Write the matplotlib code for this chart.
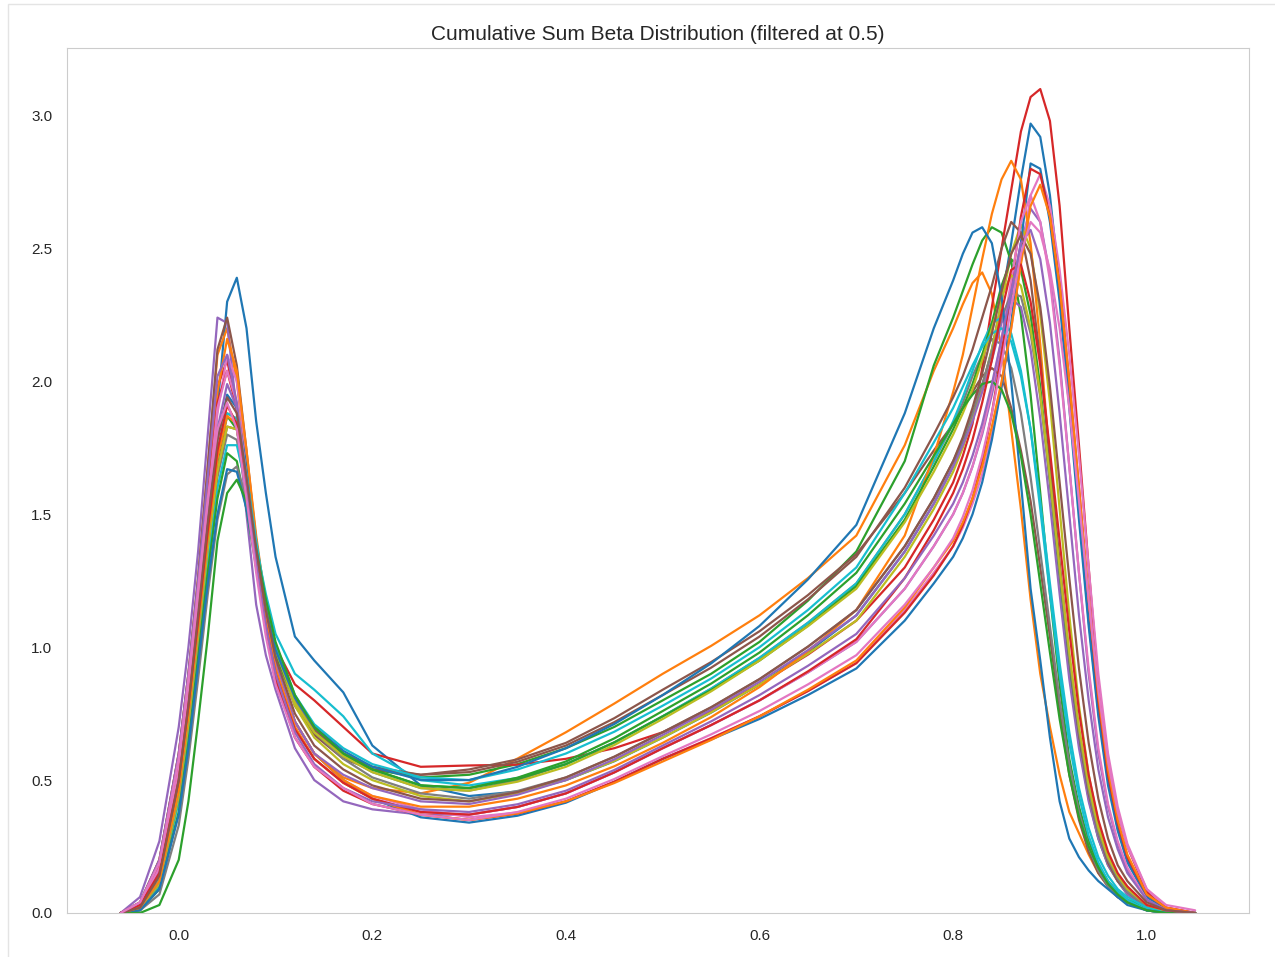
import matplotlib
matplotlib.use("Agg")
import matplotlib.pyplot as plt
import seaborn as sns
from matplotlib.patches import Rectangle

# common evaluation grid of the density curves
x_grid = [-0.06, -0.04, -0.02, 0.00, 0.01, 0.02, 0.03, 0.04, 0.05, 0.06, 0.07, 0.08,
          0.09, 0.10, 0.12, 0.14, 0.17, 0.20, 0.25, 0.30, 0.35, 0.40, 0.45, 0.50,
          0.55, 0.60, 0.65, 0.70,
          0.75, 0.78, 0.80, 0.81, 0.82, 0.83, 0.84, 0.85, 0.86, 0.87, 0.88, 0.89,
          0.90, 0.91, 0.92, 0.93, 0.94, 0.95, 0.96, 0.97, 0.98, 1.00, 1.02, 1.05]

# density values, one list per run (plotted in this order)
run_00 = [0.0, 0.02, 0.12, 0.45, 0.72, 1.05, 1.45, 1.9, 2.3, 2.39, 2.2, 1.85, 1.58, 1.34, 1.04, 0.95, 0.83, 0.63, 0.48, 0.44,
          0.457, 0.5, 0.571, 0.66, 0.754, 0.86, 0.982, 1.12,
          1.36, 1.54, 1.68, 1.77, 1.87, 1.98, 2.12, 2.3, 2.52, 2.76, 2.97, 2.92, 2.7, 2.36, 1.95, 1.52, 1.1, 0.76, 0.5, 0.32, 0.2, 0.06, 0.015, 0.0]
run_01 = [0.0, 0.04, 0.2, 0.6, 0.9, 1.26, 1.68, 2.1, 2.2, 2.0, 1.68, 1.34, 1.1, 0.93, 0.72, 0.6, 0.51, 0.47, 0.45, 0.49,
          0.581, 0.68, 0.788, 0.9, 1.005, 1.12, 1.26, 1.42,
          1.76, 2.04, 2.2, 2.29, 2.37, 2.41, 2.33, 2.12, 1.82, 1.52, 1.18, 0.9, 0.7, 0.52, 0.38, 0.3, 0.22, 0.15, 0.1, 0.06, 0.04, 0.01, 0.0, 0.0]
run_02 = [0.0, 0.02, 0.12, 0.46, 0.74, 1.07, 1.4, 1.7, 1.87, 1.82, 1.6, 1.35, 1.14, 0.98, 0.79, 0.68, 0.59, 0.54, 0.51, 0.52,
          0.56, 0.62, 0.70, 0.8, 0.90, 1.02, 1.175, 1.36,
          1.7, 2.06, 2.24, 2.34, 2.44, 2.53, 2.58, 2.56, 2.45, 2.25, 1.95, 1.58, 1.2, 0.86, 0.58, 0.4, 0.27, 0.18, 0.12, 0.08, 0.05, 0.02, 0.0, 0.0]
run_03 = [0.0, 0.03, 0.18, 0.56, 0.86, 1.2, 1.58, 1.98, 2.08, 1.9, 1.62, 1.34, 1.14, 1.0, 0.86, 0.8, 0.7, 0.6, 0.55, 0.555,
          0.558, 0.58, 0.62, 0.68, 0.761, 0.86, 0.972, 1.1,
          1.3, 1.48, 1.62, 1.72, 1.84, 2.05, 2.28, 2.5, 2.72, 2.94, 3.07, 3.1, 2.98, 2.66, 2.2, 1.76, 1.3, 0.86, 0.58, 0.38, 0.25, 0.08, 0.02, 0.0]
run_04 = [0.0, 0.06, 0.27, 0.7, 1.0, 1.36, 1.8, 2.24, 2.22, 1.88, 1.5, 1.16, 0.97, 0.84, 0.62, 0.5, 0.42, 0.39, 0.37, 0.37,
          0.399, 0.45, 0.529, 0.62, 0.707, 0.8, 0.905, 1.02,
          1.22, 1.38, 1.5, 1.58, 1.68, 1.8, 1.95, 2.12, 2.32, 2.52, 2.65, 2.6, 2.4, 2.08, 1.68, 1.28, 0.9, 0.6, 0.4, 0.26, 0.16, 0.05, 0.01, 0.0]
run_05 = [0.0, 0.04, 0.2, 0.6, 0.9, 1.26, 1.68, 2.12, 2.24, 2.06, 1.74, 1.4, 1.15, 0.98, 0.78, 0.67, 0.58, 0.54, 0.52, 0.54,
          0.578, 0.64, 0.733, 0.84, 0.944, 1.06, 1.196, 1.35,
          1.58, 1.74, 1.84, 1.9, 1.96, 2.02, 2.05, 2.02, 1.9, 1.74, 1.55, 1.3, 1.04, 0.76, 0.52, 0.35, 0.23, 0.15, 0.1, 0.06, 0.04, 0.01, 0.0, 0.0]
run_06 = [0.0, 0.03, 0.16, 0.52, 0.82, 1.16, 1.52, 1.88, 2.1, 2.0, 1.72, 1.4, 1.14, 0.95, 0.72, 0.6, 0.5, 0.44, 0.39, 0.36,
          0.378, 0.42, 0.494, 0.58, 0.658, 0.74, 0.835, 0.94,
          1.14, 1.28, 1.38, 1.45, 1.54, 1.65, 1.8, 1.98, 2.2, 2.45, 2.7, 2.78, 2.66, 2.42, 2.1, 1.72, 1.3, 0.9, 0.6, 0.4, 0.26, 0.09, 0.02, 0.0]
run_07 = [0.0, 0.02, 0.11, 0.44, 0.72, 1.04, 1.36, 1.64, 1.8, 1.78, 1.58, 1.34, 1.14, 0.98, 0.8, 0.69, 0.59, 0.53, 0.47, 0.46,
          0.50, 0.56, 0.642, 0.74, 0.844, 0.96, 1.092, 1.24,
          1.5, 1.7, 1.84, 1.92, 2.02, 2.1, 2.16, 2.14, 2.05, 1.88, 1.64, 1.36, 1.08, 0.8, 0.56, 0.38, 0.25, 0.16, 0.1, 0.06, 0.04, 0.01, 0.0, 0.0]
run_08 = [0.0, 0.02, 0.12, 0.46, 0.74, 1.08, 1.42, 1.72, 1.88, 1.86, 1.65, 1.38, 1.16, 0.98, 0.78, 0.66, 0.56, 0.5, 0.44, 0.42,
          0.45, 0.5, 0.572, 0.66, 0.755, 0.86, 0.975, 1.1,
          1.34, 1.52, 1.66, 1.75, 1.86, 1.98, 2.12, 2.3, 2.48, 2.59, 2.5, 2.25, 1.92, 1.52, 1.12, 0.78, 0.52, 0.34, 0.22, 0.14, 0.09, 0.03, 0.01, 0.0]
run_09 = [0.0, 0.02, 0.1, 0.42, 0.68, 1.0, 1.32, 1.6, 1.76, 1.76, 1.6, 1.38, 1.2, 1.05, 0.9, 0.84, 0.74, 0.6, 0.5, 0.48,
          0.508, 0.56, 0.641, 0.74, 0.844, 0.96, 1.092, 1.24,
          1.5, 1.7, 1.85, 1.94, 2.04, 2.14, 2.22, 2.24, 2.18, 2.04, 1.82, 1.52, 1.2, 0.9, 0.64, 0.44, 0.29, 0.19, 0.12, 0.08, 0.05, 0.01, 0.0, 0.0]
run_10 = [0.0, 0.02, 0.14, 0.5, 0.8, 1.14, 1.48, 1.78, 1.95, 1.9, 1.68, 1.4, 1.15, 0.95, 0.72, 0.6, 0.5, 0.43, 0.36, 0.34,
          0.366, 0.415, 0.493, 0.58, 0.653, 0.73, 0.82, 0.92,
          1.1, 1.24, 1.34, 1.41, 1.5, 1.62, 1.78, 1.98, 2.22, 2.52, 2.82, 2.8, 2.6, 2.3, 1.9, 1.48, 1.08, 0.74, 0.48, 0.31, 0.19, 0.06, 0.01, 0.0]
run_11 = [0.0, 0.03, 0.17, 0.54, 0.84, 1.2, 1.58, 1.96, 2.16, 2.04, 1.74, 1.42, 1.16, 0.96, 0.72, 0.6, 0.5, 0.44, 0.4, 0.4,
          0.43, 0.48, 0.552, 0.64, 0.737, 0.85, 0.985, 1.14,
          1.42, 1.72, 1.96, 2.1, 2.28, 2.46, 2.63, 2.76, 2.83, 2.76, 2.52, 2.14, 1.7, 1.28, 0.92, 0.64, 0.44, 0.3, 0.2, 0.13, 0.08, 0.02, 0.0, 0.0]
run_12 = [0.0, 0.01, 0.09, 0.38, 0.64, 0.96, 1.28, 1.56, 1.73, 1.7, 1.52, 1.3, 1.12, 0.97, 0.8, 0.69, 0.6, 0.54, 0.48, 0.47,
          0.504, 0.56, 0.642, 0.74, 0.839, 0.95, 1.081, 1.23,
          1.48, 1.68, 1.82, 1.9, 1.99, 2.1, 2.22, 2.36, 2.46, 2.42, 2.25, 1.98, 1.62, 1.26, 0.92, 0.64, 0.43, 0.28, 0.18, 0.12, 0.07, 0.02, 0.0, 0.0]
run_13 = [0.0, 0.03, 0.18, 0.56, 0.86, 1.2, 1.56, 1.92, 2.04, 1.9, 1.6, 1.3, 1.06, 0.88, 0.66, 0.55, 0.46, 0.41, 0.37, 0.35,
          0.374, 0.42, 0.494, 0.58, 0.657, 0.74, 0.835, 0.94,
          1.13, 1.27, 1.38, 1.46, 1.56, 1.7, 1.88, 2.1, 2.36, 2.62, 2.8, 2.78, 2.62, 2.36, 2.0, 1.6, 1.18, 0.8, 0.52, 0.34, 0.21, 0.07, 0.02, 0.0]
run_14 = [0.0, 0.03, 0.16, 0.52, 0.8, 1.14, 1.5, 1.82, 1.99, 1.9, 1.64, 1.36, 1.12, 0.94, 0.72, 0.6, 0.52, 0.47, 0.42, 0.41,
          0.445, 0.5, 0.578, 0.67, 0.765, 0.87, 0.989, 1.12,
          1.36, 1.54, 1.68, 1.76, 1.85, 1.96, 2.08, 2.22, 2.31, 2.28, 2.12, 1.86, 1.54, 1.2, 0.88, 0.62, 0.42, 0.28, 0.18, 0.12, 0.07, 0.02, 0.0, 0.0]
run_15 = [0.0, 0.02, 0.11, 0.44, 0.72, 1.04, 1.38, 1.66, 1.83, 1.82, 1.62, 1.38, 1.17, 1.0, 0.8, 0.69, 0.6, 0.55, 0.52, 0.53,
          0.569, 0.63, 0.718, 0.82, 0.923, 1.04, 1.18, 1.34,
          1.6, 1.8, 1.94, 2.02, 2.12, 2.24, 2.36, 2.5, 2.6, 2.56, 2.38, 2.08, 1.7, 1.32, 0.96, 0.67, 0.45, 0.3, 0.19, 0.12, 0.08, 0.02, 0.0, 0.0]
run_16 = [0.0, 0.03, 0.17, 0.54, 0.84, 1.18, 1.54, 1.9, 2.04, 1.92, 1.64, 1.35, 1.1, 0.92, 0.7, 0.58, 0.49, 0.43, 0.38, 0.37,
          0.399, 0.45, 0.529, 0.62, 0.707, 0.8, 0.905, 1.02,
          1.22, 1.38, 1.5, 1.58, 1.68, 1.81, 1.97, 2.16, 2.38, 2.6, 2.7, 2.6, 2.38, 2.06, 1.68, 1.28, 0.92, 0.62, 0.41, 0.27, 0.17, 0.05, 0.01, 0.0]
run_17 = [0.0, 0.01, 0.07, 0.33, 0.58, 0.88, 1.2, 1.48, 1.65, 1.68, 1.55, 1.34, 1.15, 0.99, 0.8, 0.68, 0.58, 0.51, 0.45, 0.43,
          0.459, 0.51, 0.588, 0.68, 0.774, 0.88, 1.002, 1.14,
          1.38, 1.56, 1.7, 1.78, 1.88, 1.99, 2.11, 2.24, 2.33, 2.32, 2.18, 1.94, 1.62, 1.28, 0.96, 0.68, 0.46, 0.3, 0.2, 0.13, 0.08, 0.02, 0.0, 0.0]
run_18 = [0.0, 0.02, 0.11, 0.44, 0.71, 1.04, 1.37, 1.66, 1.83, 1.82, 1.62, 1.37, 1.16, 0.99, 0.79, 0.68, 0.59, 0.53, 0.47, 0.46,
          0.494, 0.55, 0.632, 0.73, 0.834, 0.95, 1.079, 1.22,
          1.47, 1.66, 1.8, 1.88, 1.97, 2.08, 2.2, 2.32, 2.4, 2.36, 2.2, 1.95, 1.64, 1.3, 0.98, 0.7, 0.48, 0.32, 0.21, 0.14, 0.09, 0.03, 0.0, 0.0]
run_19 = [0.0, 0.02, 0.12, 0.46, 0.74, 1.07, 1.41, 1.72, 1.88, 1.86, 1.65, 1.4, 1.18, 1.01, 0.82, 0.71, 0.62, 0.56, 0.51, 0.5,
          0.54, 0.6, 0.682, 0.78, 0.882, 1.0, 1.14, 1.3,
          1.58, 1.77, 1.9, 1.98, 2.06, 2.13, 2.18, 2.2, 2.15, 2.02, 1.82, 1.55, 1.24, 0.94, 0.68, 0.47, 0.32, 0.21, 0.14, 0.09, 0.06, 0.02, 0.0, 0.0]
run_20 = [0.0, 0.01, 0.09, 0.37, 0.62, 0.93, 1.24, 1.5, 1.67, 1.66, 1.52, 1.32, 1.14, 0.99, 0.81, 0.7, 0.61, 0.55, 0.5, 0.5,
          0.55, 0.62, 0.711, 0.82, 0.939, 1.08, 1.255, 1.46,
          1.88, 2.2, 2.38, 2.48, 2.56, 2.58, 2.52, 2.32, 2.0, 1.62, 1.22, 0.95, 0.66, 0.42, 0.28, 0.21, 0.16, 0.12, 0.09, 0.06, 0.03, 0.01, 0.0, 0.0]
run_21 = [0.0, 0.02, 0.12, 0.46, 0.74, 1.07, 1.41, 1.71, 1.87, 1.84, 1.62, 1.34, 1.1, 0.92, 0.7, 0.58, 0.49, 0.43, 0.37, 0.35,
          0.375, 0.42, 0.489, 0.57, 0.651, 0.74, 0.84, 0.95,
          1.15, 1.3, 1.4, 1.47, 1.56, 1.68, 1.83, 2.0, 2.2, 2.44, 2.66, 2.74, 2.62, 2.36, 2.0, 1.6, 1.18, 0.82, 0.54, 0.35, 0.22, 0.07, 0.02, 0.0]
run_22 = [0.0, 0.0, 0.03, 0.2, 0.42, 0.72, 1.04, 1.4, 1.58, 1.63, 1.55, 1.37, 1.18, 1.02, 0.82, 0.7, 0.6, 0.54, 0.48, 0.47,
          0.509, 0.57, 0.657, 0.76, 0.863, 0.98, 1.12, 1.28,
          1.54, 1.72, 1.84, 1.9, 1.95, 1.99, 2.0, 1.97, 1.88, 1.72, 1.5, 1.24, 0.98, 0.73, 0.52, 0.36, 0.25, 0.17, 0.11, 0.07, 0.04, 0.01, 0.0, 0.0]
run_23 = [0.0, 0.03, 0.15, 0.5, 0.78, 1.1, 1.44, 1.74, 1.91, 1.84, 1.6, 1.32, 1.08, 0.9, 0.69, 0.58, 0.49, 0.43, 0.38, 0.37,
          0.399, 0.45, 0.529, 0.62, 0.707, 0.8, 0.909, 1.03,
          1.26, 1.44, 1.58, 1.67, 1.78, 1.92, 2.08, 2.26, 2.42, 2.44, 2.3, 2.06, 1.74, 1.4, 1.06, 0.76, 0.52, 0.35, 0.23, 0.15, 0.1, 0.03, 0.01, 0.0]
run_24 = [0.0, 0.04, 0.2, 0.6, 0.9, 1.25, 1.64, 2.02, 2.1, 1.92, 1.62, 1.32, 1.08, 0.9, 0.68, 0.56, 0.47, 0.42, 0.39, 0.38,
          0.409, 0.46, 0.538, 0.63, 0.721, 0.82, 0.93, 1.05,
          1.26, 1.42, 1.54, 1.62, 1.72, 1.84, 1.99, 2.16, 2.34, 2.52, 2.57, 2.46, 2.22, 1.88, 1.5, 1.12, 0.8, 0.54, 0.36, 0.24, 0.15, 0.05, 0.01, 0.0]
run_25 = [0.0, 0.02, 0.14, 0.5, 0.78, 1.12, 1.47, 1.78, 1.94, 1.88, 1.64, 1.37, 1.14, 0.96, 0.75, 0.63, 0.54, 0.48, 0.43, 0.42,
          0.455, 0.51, 0.588, 0.68, 0.774, 0.88, 1.002, 1.14,
          1.38, 1.56, 1.7, 1.79, 1.9, 2.03, 2.18, 2.34, 2.48, 2.55, 2.48, 2.28, 1.98, 1.62, 1.26, 0.92, 0.64, 0.43, 0.28, 0.18, 0.12, 0.04, 0.01, 0.0]
run_26 = [0.0, 0.04, 0.19, 0.58, 0.88, 1.22, 1.56, 1.82, 1.92, 1.82, 1.56, 1.28, 1.04, 0.86, 0.66, 0.55, 0.47, 0.41, 0.37, 0.35,
          0.38, 0.43, 0.504, 0.59, 0.672, 0.76, 0.86, 0.97,
          1.16, 1.3, 1.41, 1.49, 1.59, 1.72, 1.88, 2.07, 2.28, 2.48, 2.6, 2.56, 2.42, 2.2, 1.9, 1.55, 1.18, 0.84, 0.57, 0.38, 0.25, 0.09, 0.03, 0.01]

runs = [run_00, run_01, run_02, run_03, run_04, run_05, run_06, run_07, run_08,
        run_09, run_10, run_11, run_12, run_13, run_14, run_15, run_16, run_17,
        run_18, run_19, run_20, run_21, run_22, run_23, run_24, run_25, run_26]

sns.set_style("whitegrid")
plt.rcParams['font.family'] = ['Liberation Sans', 'DejaVu Sans']

fig = plt.figure(figsize=(12.75, 9.57), dpi=100)
ax = fig.add_axes([0.0525, 0.046, 0.927, 0.904])

for y in runs:
    ax.plot(x_grid, y, linewidth=1.6)

ax.grid(False)
ax.set_ylim(bottom=0)
ax.set_xticks([0.0, 0.2, 0.4, 0.6, 0.8, 1.0])
ax.tick_params(axis='x', labelsize=11, pad=8, colors='.15')
ax.tick_params(axis='y', labelsize=11, pad=7, colors='.15')
ax.set_title('Cumulative Sum Beta Distribution (filtered at 0.5)', fontsize=15, color='.15')

# faint frame of the notebook output cell
fig.patches.append(Rectangle((8 / 1275, -0.1), 1.2, 1.1 - 4 / 957, transform=fig.transFigure,
                             fill=False, edgecolor='#e4e4e4', linewidth=1))

fig.savefig('out.png', dpi=100)
